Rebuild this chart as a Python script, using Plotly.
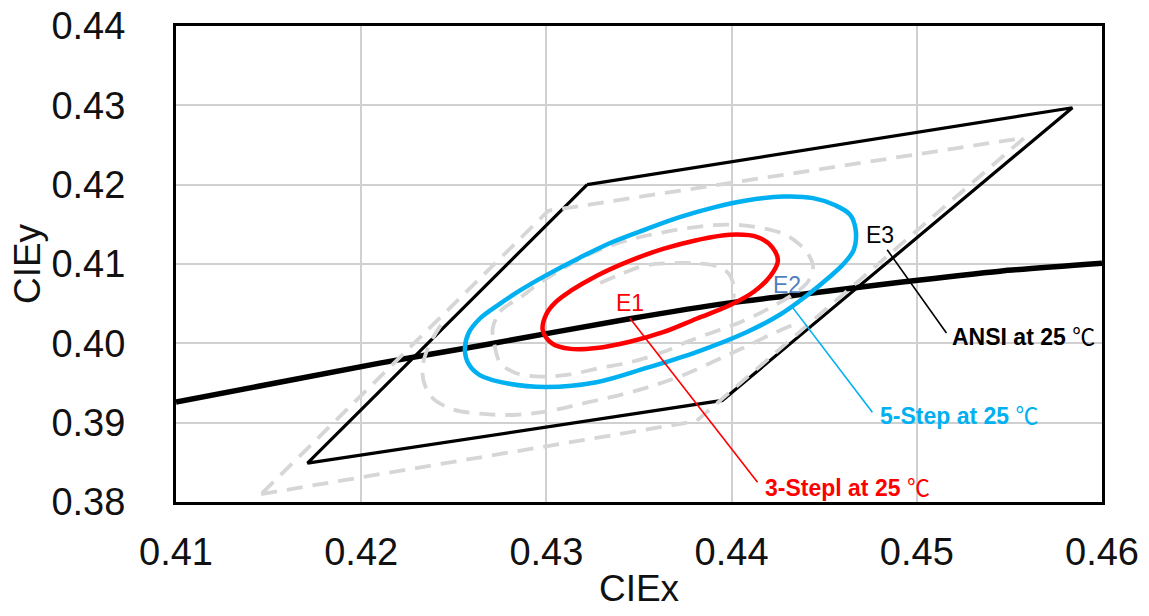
import plotly.graph_objects as go

# ---------------- data (CIE x, y) ----------------
# Planckian (black-body) locus, thick black line
locus_x = [0.4100, 0.4210, 0.4264, 0.4345, 0.4399, 0.4435, 0.4491, 0.4545, 0.4600]
locus_y = [0.3926, 0.3975, 0.3997, 0.4031, 0.4051, 0.4061, 0.4077, 0.4091, 0.4101]

# ANSI quadrangle at 25 C
ansi_x = [0.4322, 0.4584, 0.4395, 0.4171, 0.4322]
ansi_y = [0.4200, 0.4297, 0.3928, 0.3849, 0.4200]

# 5-step MacAdam ellipse at 25 C (blue)
step5_x = [0.4256, 0.4258, 0.4264, 0.4275, 0.4286, 0.4300, 0.4318, 0.4336, 0.4354, 0.4372,
           0.4390, 0.4408, 0.4428, 0.4444, 0.4456, 0.4464, 0.4467, 0.4466, 0.4460, 0.4453,
           0.4441, 0.4426, 0.4408, 0.4381, 0.4354, 0.4327, 0.4300, 0.4280, 0.4264, 0.4258, 0.4256]
step5_y = [0.3992, 0.4013, 0.4031, 0.4050, 0.4067, 0.4086, 0.4108, 0.4128, 0.4144, 0.4159,
           0.4171, 0.4180, 0.4185, 0.4183, 0.4174, 0.4162, 0.4143, 0.4118, 0.4099, 0.4084,
           0.4061, 0.4036, 0.4014, 0.3989, 0.3969, 0.3951, 0.3945, 0.3949, 0.3960, 0.3974, 0.3992]

# 3-step MacAdam ellipse at 25 C (red)
step3_x = [0.4298, 0.4300, 0.4305, 0.4313, 0.4327, 0.4345, 0.4363, 0.4381, 0.4399, 0.4414,
           0.4422, 0.4425, 0.4421, 0.4412, 0.4399, 0.4381, 0.4363, 0.4345, 0.4327, 0.4313,
           0.4303, 0.4298]
step3_y = [0.4017, 0.4037, 0.4052, 0.4066, 0.4085, 0.4104, 0.4119, 0.4130, 0.4137, 0.4134,
           0.4121, 0.4104, 0.4085, 0.4065, 0.4048, 0.4031, 0.4014, 0.4002, 0.3994, 0.3993,
           0.4000, 0.4017]

# grey dashed reference outlines
grey_quad_x = [0.4146, 0.4381, 0.4558, 0.4301, 0.4146]
grey_quad_y = [0.3810, 0.3902, 0.4259, 0.4167, 0.3810]

grey_outer_x = [0.4243, 0.4236, 0.4233, 0.4237, 0.4248, 0.4266, 0.4284, 0.4302, 0.4321, 0.4340,
                0.4358, 0.4374, 0.4392, 0.4406, 0.4422, 0.4437]
grey_outer_y = [0.4023, 0.3994, 0.3964, 0.3935, 0.3918, 0.3911, 0.3910, 0.3915, 0.3925, 0.3935,
                0.3947, 0.3960, 0.3979, 0.3994, 0.4012, 0.4027]

grey_mid_x = [0.4271, 0.4275, 0.4279, 0.4286, 0.4295, 0.4306, 0.4322, 0.4341, 0.4363, 0.4390,
              0.4405, 0.4417, 0.4429, 0.4437, 0.4442, 0.4444, 0.4441, 0.4434, 0.4421, 0.4405,
              0.4390, 0.4376, 0.4363, 0.4345, 0.4329, 0.4313, 0.4297, 0.4283, 0.4275, 0.4272, 0.4271]
grey_mid_y = [0.4019, 0.4040, 0.4048, 0.4058, 0.4074, 0.4090, 0.4111, 0.4128, 0.4140, 0.4149,
              0.4149, 0.4145, 0.4137, 0.4124, 0.4110, 0.4095, 0.4077, 0.4063, 0.4045, 0.4027,
              0.4014, 0.4002, 0.3989, 0.3976, 0.3969, 0.3961, 0.3958, 0.3963, 0.3976, 0.3998, 0.4019]

grey_inner_x = [0.4329, 0.4340, 0.4353, 0.4367, 0.4380, 0.4391, 0.4398, 0.4401, 0.4401]
grey_inner_y = [0.4076, 0.4087, 0.4098, 0.4101, 0.4101, 0.4098, 0.4089, 0.4074, 0.4057]

# point labels E1..E3 and their callouts
point_labels = ["E1", "E2", "E3"]
point_label_x = [0.4345, 0.4430, 0.4480]
point_label_y = [0.4051, 0.4074, 0.4137]
point_label_colors = ["#ff0000", "#4f7fc0", "#000000"]

callout_texts = ["3-Stepl at 25 ", "5-Step at 25 ", "ANSI at 25 "]
callout_colors = ["#ff0000", "#00b0f0", "#000000"]
callout_x = [0.4417, 0.4479, 0.4518]
callout_y = [0.3818, 0.3908, 0.4008]
leader_start_x = [0.4345, 0.4433, 0.4484]
leader_start_y = [0.4032, 0.4045, 0.4118]
leader_end_x = [0.4414, 0.4476, 0.4516]
leader_end_y = [0.3825, 0.3913, 0.4013]

x_ticks = [0.41, 0.42, 0.43, 0.44, 0.45, 0.46]
y_ticks = [0.38, 0.39, 0.40, 0.41, 0.42, 0.43, 0.44]

FONT = "Liberation Sans, Arial, Noto Sans CJK SC, sans-serif"
GREY = "#d6d6d6"

fig = go.Figure()

# black-body locus
fig.add_trace(go.Scatter(x=locus_x, y=locus_y, mode="lines",
                         line=dict(color="black", width=5.5, shape="spline", smoothing=0.6),
                         hoverinfo="skip"))
# ANSI quadrangle
fig.add_trace(go.Scatter(x=ansi_x, y=ansi_y, mode="lines",
                         line=dict(color="black", width=3.2), hoverinfo="skip"))
# grey dashed outlines
fig.add_trace(go.Scatter(x=grey_quad_x, y=grey_quad_y, mode="lines",
                         line=dict(color=GREY, width=3.8, dash="16px,10px"), hoverinfo="skip"))
for gx, gy in [(grey_outer_x, grey_outer_y), (grey_mid_x, grey_mid_y), (grey_inner_x, grey_inner_y)]:
    fig.add_trace(go.Scatter(x=gx, y=gy, mode="lines",
                             line=dict(color=GREY, width=3.8, dash="16px,10px",
                                       shape="spline", smoothing=1.0),
                             hoverinfo="skip"))
# ellipses
fig.add_trace(go.Scatter(x=step5_x, y=step5_y, mode="lines",
                         line=dict(color="#00b0f0", width=4.5, shape="spline", smoothing=1.0),
                         hoverinfo="skip"))
fig.add_trace(go.Scatter(x=step3_x, y=step3_y, mode="lines",
                         line=dict(color="#ff0000", width=4.5, shape="spline", smoothing=1.0),
                         hoverinfo="skip"))

# leader lines
for i in range(3):
    fig.add_trace(go.Scatter(x=[leader_start_x[i], leader_end_x[i]],
                             y=[leader_start_y[i], leader_end_y[i]], mode="lines",
                             line=dict(color=callout_colors[i], width=1.6), hoverinfo="skip"))

annotations = []
for i in range(3):
    annotations.append(dict(x=point_label_x[i], y=point_label_y[i], xref="x", yref="y",
                            text=point_labels[i], showarrow=False,
                            font=dict(family=FONT, size=23, color=point_label_colors[i]),
                            xanchor="center", yanchor="middle"))
    annotations.append(dict(x=callout_x[i], y=callout_y[i], xref="x", yref="y",
                            text="<b>" + callout_texts[i] + "</b>℃", showarrow=False,
                            font=dict(family=FONT, size=23, color=callout_colors[i]),
                            xanchor="left", yanchor="middle"))

fig.update_layout(
    width=1149, height=616,
    margin=dict(l=176, r=47, t=26, b=114),
    paper_bgcolor="white", plot_bgcolor="white",
    showlegend=False,
    annotations=annotations,
    font=dict(family=FONT, color="#111111"),
)
fig.update_xaxes(
    range=[0.41, 0.46], tickvals=x_ticks, ticktext=[f"{v:.2f}" for v in x_ticks],
    showgrid=True, gridcolor="#d0d0d0", gridwidth=1.5, zeroline=False,
    showline=True, linecolor="black", linewidth=3, mirror=True, ticks="",
    tickfont=dict(family=FONT, size=38, color="#111111"), ticklabelstandoff=14,
    ticklabeloverflow="allow",
    title=dict(text="CIEx", font=dict(family=FONT, size=37, color="#111111"), standoff=4),
    automargin=False,
)
fig.update_yaxes(
    range=[0.38, 0.44], tickvals=y_ticks, ticktext=[f"{v:.2f}" for v in y_ticks],
    showgrid=True, gridcolor="#d0d0d0", gridwidth=1.5, zeroline=False,
    showline=True, linecolor="black", linewidth=3, mirror=True, ticks="",
    tickfont=dict(family=FONT, size=38, color="#111111"), ticklabelstandoff=40,
    ticklabeloverflow="allow",
    title=dict(text="CIEy", font=dict(family=FONT, size=37, color="#111111"), standoff=0),
    automargin=False,
)

# remove the browser's default 8px body margin so the figure fills the window exactly
fig.write_html("out.html",
               config={"displayModeBar": False},
               post_script="document.body.style.margin='0';document.body.style.overflow='hidden';")
